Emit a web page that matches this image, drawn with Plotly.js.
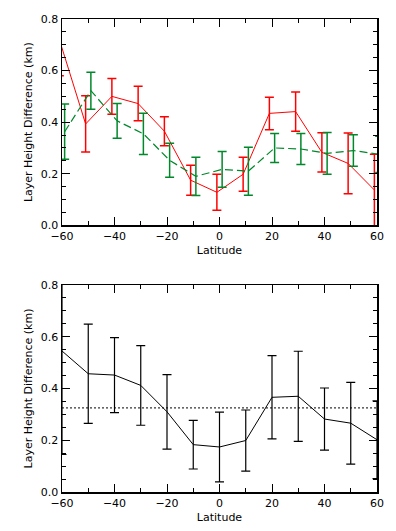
<!DOCTYPE html>
<html><head><meta charset="utf-8">
<script src="https://cdn.plot.ly/plotly-3.0.1.min.js"></script>
<style>html,body{margin:0;padding:0;background:#fff}#chart{width:396px;height:531px}</style>
</head><body><div id="chart"></div>
<script>
// Top panel: red series (latitudes offset -1), green series (offset +1)
const redLat = [-61,-51,-41,-31,-21,-11,-1,9,19,29,39,49,59];
const redVal = [0.72,0.393,0.50,0.472,0.365,0.175,0.128,0.198,0.434,0.441,0.283,0.240,0.137];
const redErr = [0.14,0.109,0.069,0.067,0.056,0.058,0.070,0.066,0.063,0.076,0.076,0.118,0.139];
const greenLat = [-59,-49,-39,-29,-19,-9,1,11,21,31,41,51,61];
const greenVal = [0.363,0.522,0.405,0.355,0.252,0.190,0.217,0.210,0.300,0.296,0.279,0.290,0.275];
const greenErr = [0.107,0.072,0.067,0.080,0.066,0.074,0.069,0.093,0.056,0.060,0.081,0.061,0.07];
// Bottom panel: combined series
const blackLat = [-60,-50,-40,-30,-20,-10,0,10,20,30,40,50,60];
const blackVal = [0.545,0.457,0.452,0.412,0.310,0.183,0.174,0.199,0.366,0.370,0.282,0.266,0.202];
const blackErr = [0.40,0.192,0.145,0.154,0.144,0.094,0.135,0.118,0.161,0.174,0.120,0.158,0.15];
const meanLat = [-60,60];
const meanVal = [0.325,0.325];

const font = {family:'DejaVu Sans', size:11, color:'#000'};
const traces = [
  {x:redLat, y:redVal, type:'scatter', mode:'lines', xaxis:'x', yaxis:'y',
   line:{color:'#ff0000', width:1},
   error_y:{type:'data', array:redErr, visible:true, color:'#ff0000', thickness:1.5, width:4.5}},
  {x:greenLat, y:greenVal, type:'scatter', mode:'lines', xaxis:'x', yaxis:'y',
   line:{color:'#00882b', width:1.2, dash:'8px,4px'},
   error_y:{type:'data', array:greenErr, visible:true, color:'#00882b', thickness:1.5, width:4.5}},
  {x:blackLat, y:blackVal, type:'scatter', mode:'lines', xaxis:'x2', yaxis:'y2',
   line:{color:'#000', width:1},
   error_y:{type:'data', array:blackErr, visible:true, color:'#000', thickness:1.2, width:4.5}},
  {x:meanLat, y:meanVal, type:'scatter', mode:'lines', xaxis:'x2', yaxis:'y2',
   line:{color:'#000', width:1, dash:'2px,2px'}}
];
function xax(anchor){
  return {anchor:anchor, range:[-60,60], tickmode:'array', tickvals:[-60,-40,-20,0,20,40,60],
    ticktext:['\u221260','\u221240','\u221220','0','20','40','60'],
    ticks:'inside', ticklen:8, tickwidth:1, tickcolor:'#000',
    minor:{dtick:10, tick0:0, ticks:'inside', ticklen:4, tickcolor:'#000', showgrid:false},
    showline:true, linecolor:'#000', linewidth:1.5, mirror:'ticks', showgrid:false, zeroline:false,
    tickfont:font, title:{text:'Latitude', font:font, standoff:4}};
}
function yax(anchor, domain){
  return {anchor:anchor, domain:domain, range:[0,0.8], tickmode:'array', tickvals:[0,0.2,0.4,0.6,0.8],
    ticktext:['0.0','0.2','0.4','0.6','0.8'],
    ticks:'inside', ticklen:8, tickwidth:1, tickcolor:'#000',
    minor:{dtick:0.05, tick0:0, ticks:'inside', ticklen:4, tickcolor:'#000', showgrid:false},
    showline:true, linecolor:'#000', linewidth:1.5, mirror:'ticks', showgrid:false, zeroline:false,
    tickfont:font, title:{text:'Layer Height Difference (km)', font:font, standoff:6}};
}
const layout = {
  width:396, height:531, showlegend:false,
  paper_bgcolor:'#fff', plot_bgcolor:'#fff',
  margin:{l:62, r:19, t:19, b:39},
  xaxis:xax('y'), yaxis:yax('x',[0.5638,1]),
  xaxis2:xax('y2'), yaxis2:yax('x2',[0,0.4376]),
  font:font
};
Plotly.newPlot('chart', traces, layout, {staticPlot:true, displayModeBar:false});
</script></body></html>
